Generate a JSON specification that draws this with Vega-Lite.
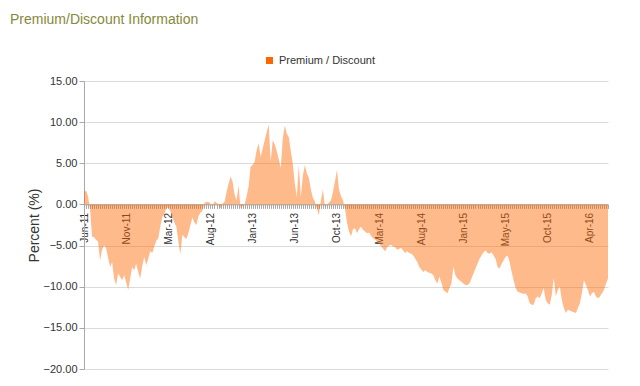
{
  "$schema": "https://vega.github.io/schema/vega-lite/v6.json",
  "autosize": {"type": "none"},
  "width": 524,
  "height": 288,
  "padding": {"left": 84, "top": 81, "right": 32, "bottom": 17},
  "background": "white",
  "config": {
    "font": "Liberation Sans",
    "view": {"stroke": null},
    "axis": {"labelFont": "Liberation Sans", "titleFont": "Liberation Sans"}
  },
  "title": {
    "text": "Premium/Discount Information",
    "anchor": "start",
    "frame": "group",
    "dx": -74,
    "dy": -24,
    "fontSize": 14,
    "fontWeight": "normal",
    "color": "#86883a",
    "font": "Liberation Sans"
  },
  "data": {
    "values": [
      {"w":0,"pd":1.5},{"w":1,"pd":1.7},{"w":2,"pd":1.0},{"w":3,"pd":-0.5},{"w":4,"pd":-3.9},{"w":5,"pd":-4.0},{"w":6,"pd":-4.3},{"w":7,"pd":-4.5},{"w":8,"pd":-6.8},{"w":9,"pd":-5.5},
      {"w":10,"pd":-5.0},{"w":11,"pd":-5.3},{"w":12,"pd":-6.5},{"w":13,"pd":-7.6},{"w":14,"pd":-7.0},{"w":15,"pd":-9.0},{"w":16,"pd":-9.8},{"w":17,"pd":-8.4},{"w":18,"pd":-8.8},{"w":19,"pd":-9.2},
      {"w":20,"pd":-8.6},{"w":21,"pd":-9.5},{"w":22,"pd":-10.4},{"w":23,"pd":-9.0},{"w":24,"pd":-7.6},{"w":25,"pd":-8.0},{"w":26,"pd":-7.2},{"w":27,"pd":-8.2},{"w":28,"pd":-9.0},{"w":29,"pd":-7.5},
      {"w":30,"pd":-6.4},{"w":31,"pd":-7.4},{"w":32,"pd":-6.6},{"w":33,"pd":-5.7},{"w":34,"pd":-5.9},{"w":35,"pd":-5.1},{"w":36,"pd":-4.4},{"w":37,"pd":-4.1},{"w":38,"pd":-2.7},{"w":39,"pd":-1.5},
      {"w":40,"pd":-1.2},{"w":41,"pd":-0.5},{"w":42,"pd":-0.3},{"w":43,"pd":-0.8},{"w":44,"pd":-1.6},{"w":45,"pd":-2.2},{"w":46,"pd":-2.7},{"w":47,"pd":-4.5},{"w":48,"pd":-6.1},{"w":49,"pd":-3.7},
      {"w":50,"pd":-4.0},{"w":51,"pd":-4.2},{"w":52,"pd":-3.5},{"w":53,"pd":-2.5},{"w":54,"pd":-1.6},{"w":55,"pd":-2.2},{"w":56,"pd":-2.5},{"w":57,"pd":-1.4},{"w":58,"pd":-1.0},{"w":59,"pd":-0.8},
      {"w":60,"pd":0.2},{"w":61,"pd":0.3},{"w":62,"pd":0.3},{"w":63,"pd":0.1},{"w":64,"pd":-0.2},{"w":65,"pd":0.4},{"w":66,"pd":0.2},{"w":67,"pd":0.0},{"w":68,"pd":-0.5},{"w":69,"pd":0.1},
      {"w":70,"pd":0.3},{"w":71,"pd":1.5},{"w":72,"pd":2.5},{"w":73,"pd":3.4},{"w":74,"pd":2.8},{"w":75,"pd":1.2},{"w":76,"pd":0.5},{"w":77,"pd":2.3},{"w":78,"pd":-0.5},{"w":79,"pd":-0.2},
      {"w":80,"pd":0.0},{"w":81,"pd":1.0},{"w":82,"pd":2.2},{"w":83,"pd":4.6},{"w":84,"pd":4.8},{"w":85,"pd":5.2},{"w":86,"pd":6.6},{"w":87,"pd":7.4},{"w":88,"pd":5.8},{"w":89,"pd":6.8},
      {"w":90,"pd":7.8},{"w":91,"pd":8.8},{"w":92,"pd":9.7},{"w":93,"pd":5.2},{"w":94,"pd":7.8},{"w":95,"pd":7.3},{"w":96,"pd":6.5},{"w":97,"pd":5.5},{"w":98,"pd":4.4},{"w":99,"pd":8.0},
      {"w":100,"pd":9.6},{"w":101,"pd":8.6},{"w":102,"pd":8.2},{"w":103,"pd":6.5},{"w":104,"pd":5.0},{"w":105,"pd":2.5},{"w":106,"pd":0.9},{"w":107,"pd":4.8},{"w":108,"pd":0.9},{"w":109,"pd":3.5},
      {"w":110,"pd":4.8},{"w":111,"pd":3.8},{"w":112,"pd":3.2},{"w":113,"pd":1.8},{"w":114,"pd":0.8},{"w":115,"pd":0.4},{"w":116,"pd":-0.5},{"w":117,"pd":-1.3},{"w":118,"pd":0.5},{"w":119,"pd":1.8},
      {"w":120,"pd":-0.3},{"w":121,"pd":0.0},{"w":122,"pd":0.2},{"w":123,"pd":0.5},{"w":124,"pd":1.5},{"w":125,"pd":2.8},{"w":126,"pd":4.2},{"w":127,"pd":1.8},{"w":128,"pd":1.0},{"w":129,"pd":0.5},
      {"w":130,"pd":-0.5},{"w":131,"pd":-2.2},{"w":132,"pd":-3.3},{"w":133,"pd":-3.9},{"w":134,"pd":-3.0},{"w":135,"pd":-2.9},{"w":136,"pd":-3.5},{"w":137,"pd":-3.0},{"w":138,"pd":-2.7},{"w":139,"pd":-3.1},
      {"w":140,"pd":-3.3},{"w":141,"pd":-3.5},{"w":142,"pd":-3.4},{"w":143,"pd":-3.8},{"w":144,"pd":-4.1},{"w":145,"pd":-4.3},{"w":146,"pd":-4.5},{"w":147,"pd":-4.7},{"w":148,"pd":-5.1},{"w":149,"pd":-5.4},
      {"w":150,"pd":-5.7},{"w":151,"pd":-5.2},{"w":152,"pd":-5.0},{"w":153,"pd":-4.9},{"w":154,"pd":-5.1},{"w":155,"pd":-5.2},{"w":156,"pd":-5.5},{"w":157,"pd":-5.4},{"w":158,"pd":-5.3},{"w":159,"pd":-5.6},
      {"w":160,"pd":-5.9},{"w":161,"pd":-5.7},{"w":162,"pd":-5.9},{"w":163,"pd":-6.0},{"w":164,"pd":-6.2},{"w":165,"pd":-6.6},{"w":166,"pd":-7.0},{"w":167,"pd":-7.6},{"w":168,"pd":-7.9},{"w":169,"pd":-8.2},
      {"w":170,"pd":-8.0},{"w":171,"pd":-8.2},{"w":172,"pd":-8.3},{"w":173,"pd":-8.4},{"w":174,"pd":-8.6},{"w":175,"pd":-9.2},{"w":176,"pd":-9.6},{"w":177,"pd":-8.8},{"w":178,"pd":-9.5},{"w":179,"pd":-10.4},
      {"w":180,"pd":-10.6},{"w":181,"pd":-10.8},{"w":182,"pd":-10.2},{"w":183,"pd":-9.6},{"w":184,"pd":-7.6},{"w":185,"pd":-8.6},{"w":186,"pd":-9.0},{"w":187,"pd":-9.2},{"w":188,"pd":-9.4},{"w":189,"pd":-9.6},
      {"w":190,"pd":-9.8},{"w":191,"pd":-9.8},{"w":192,"pd":-9.6},{"w":193,"pd":-9.0},{"w":194,"pd":-8.4},{"w":195,"pd":-7.8},{"w":196,"pd":-7.2},{"w":197,"pd":-6.6},{"w":198,"pd":-6.2},{"w":199,"pd":-5.8},
      {"w":200,"pd":-5.6},{"w":201,"pd":-5.9},{"w":202,"pd":-6.0},{"w":203,"pd":-5.8},{"w":204,"pd":-6.2},{"w":205,"pd":-6.6},{"w":206,"pd":-7.6},{"w":207,"pd":-7.8},{"w":208,"pd":-7.2},{"w":209,"pd":-6.8},
      {"w":210,"pd":-6.4},{"w":211,"pd":-6.2},{"w":212,"pd":-7.0},{"w":213,"pd":-8.2},{"w":214,"pd":-9.2},{"w":215,"pd":-10.2},{"w":216,"pd":-10.6},{"w":217,"pd":-10.7},{"w":218,"pd":-10.8},{"w":219,"pd":-10.9},
      {"w":220,"pd":-10.8},{"w":221,"pd":-11.2},{"w":222,"pd":-12.0},{"w":223,"pd":-12.2},{"w":224,"pd":-12.2},{"w":225,"pd":-11.4},{"w":226,"pd":-11.2},{"w":227,"pd":-11.4},{"w":228,"pd":-10.8},{"w":229,"pd":-10.2},
      {"w":230,"pd":-11.6},{"w":231,"pd":-12.0},{"w":232,"pd":-12.2},{"w":233,"pd":-11.0},{"w":234,"pd":-8.9},{"w":235,"pd":-11.2},{"w":236,"pd":-10.4},{"w":237,"pd":-10.0},{"w":238,"pd":-11.6},{"w":239,"pd":-12.6},
      {"w":240,"pd":-13.2},{"w":241,"pd":-12.8},{"w":242,"pd":-12.9},{"w":243,"pd":-13.0},{"w":244,"pd":-13.1},{"w":245,"pd":-13.2},{"w":246,"pd":-12.6},{"w":247,"pd":-12.0},{"w":248,"pd":-10.8},{"w":249,"pd":-9.2},
      {"w":250,"pd":-9.8},{"w":251,"pd":-10.4},{"w":252,"pd":-11.2},{"w":253,"pd":-10.8},{"w":254,"pd":-10.6},{"w":255,"pd":-11.2},{"w":256,"pd":-11.4},{"w":257,"pd":-11.2},{"w":258,"pd":-10.8},{"w":259,"pd":-10.4},
      {"w":260,"pd":-9.6},{"w":261,"pd":-9.0}
    ]
  },
  "mark": {"type": "area", "fillOpacity": 0.45, "interpolate": "linear"},
  "encoding": {
    "x": {
      "field": "w",
      "type": "quantitative",
      "scale": {"domain": [0, 261], "nice": false, "zero": false},
      "axis": {
        "title": null,
        "tickCount": 262,
        "labelExpr": "datum.value % 21 == 0 ? ['Jun-11','Nov-11','Mar-12','Aug-12','Jan-13','Jun-13','Oct-13','Mar-14','Aug-14','Jan-15','May-15','Oct-15','Apr-16'][datum.value / 21] : ''",
        "labelOverlap": false,
        "labelFlush": false,
        "labelAngle": -90,
        "labelFontSize": 10,
        "labelColor": "#333333",
        "labelPadding": 4,
        "tickSize": 4,
        "tickColor": "#a8a8a8",
        "domainColor": "#a8a8a8",
        "grid": false,
        "offset": -164.6
      }
    },
    "y": {
      "field": "pd",
      "type": "quantitative",
      "scale": {"domain": [-20, 15], "nice": false},
      "axis": {
        "title": "Percent (%)",
        "titleFontSize": 14,
        "titleFontWeight": "normal",
        "titleColor": "#333333",
        "titlePadding": 2,
        "values": [-20, -15, -10, -5, 0, 5, 10, 15],
        "format": ".2f",
        "labelFontSize": 11,
        "labelColor": "#333333",
        "labelPadding": 2,
        "tickSize": 5,
        "tickColor": "#a8a8a8",
        "domainColor": "#a8a8a8",
        "gridColor": "#d9dcd9"
      }
    },
    "color": {
      "datum": "Premium / Discount",
      "type": "nominal",
      "scale": {"range": ["#FF6600"]},
      "legend": {
        "title": null,
        "orient": "none",
        "legendX": 180,
        "legendY": -26,
        "symbolType": "square",
        "symbolSize": 49,
        "symbolOpacity": 1,
        "symbolStrokeWidth": 0,
        "labelFontSize": 11,
        "labelColor": "#333333",
        "labelFont": "Liberation Sans",
        "padding": 0
      }
    }
  }
}
